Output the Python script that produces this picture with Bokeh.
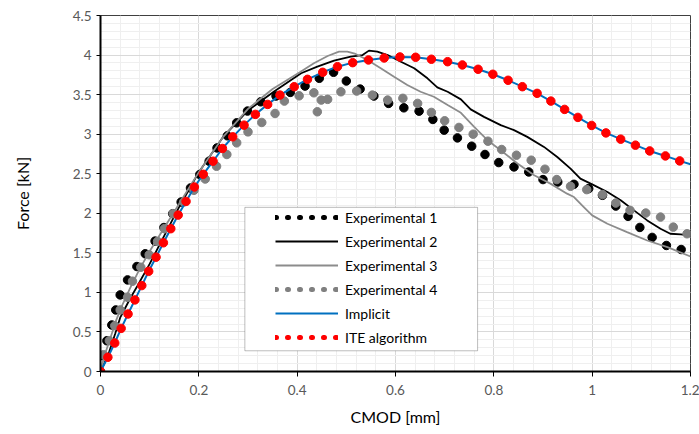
from bokeh.plotting import figure
from bokeh.models import (Range1d, FixedTicker, Legend, LegendItem,
                          BoxAnnotation, CustomJSTickFormatter)
from bokeh.embed import file_html
from bokeh.resources import INLINE

# ---------------- data ----------------
exp1_x = [0, 0.005, 0.013, 0.023, 0.031, 0.040, 0.055, 0.074, 0.091, 0.111,
          0.129, 0.147, 0.164, 0.183, 0.202, 0.221, 0.237, 0.258, 0.277, 0.299,
          0.326, 0.357, 0.386, 0.416, 0.445, 0.474, 0.500, 0.528, 0.556, 0.586,
          0.617, 0.648, 0.676, 0.699, 0.726, 0.755, 0.782, 0.810, 0.841, 0.871,
          0.900, 0.930, 0.963, 0.993, 1.021, 1.048, 1.073, 1.097, 1.122, 1.151,
          1.181]
exp1_f = [0, 0.2, 0.389, 0.588, 0.778, 0.968, 1.158, 1.327, 1.488, 1.648,
          1.82, 1.995, 2.142, 2.32, 2.49, 2.658, 2.826, 2.979, 3.143, 3.292,
          3.409, 3.482, 3.528, 3.608, 3.706, 3.782, 3.672, 3.570, 3.482, 3.389,
          3.333, 3.291, 3.186, 3.051, 2.953, 2.848, 2.743, 2.641, 2.586, 2.522,
          2.426, 2.395, 2.366, 2.312, 2.227, 2.091, 1.961, 1.821, 1.695, 1.593,
          1.542]

exp2_x = [0, 0.015, 0.03, 0.04, 0.05, 0.06, 0.075, 0.1, 0.13, 0.16,
          0.2, 0.25, 0.3, 0.353, 0.408, 0.441, 0.475, 0.509, 0.533, 0.546,
          0.563, 0.584, 0.611, 0.638, 0.665, 0.685, 0.706, 0.733, 0.753, 0.780,
          0.814, 0.841, 0.868, 0.902, 0.929, 0.956, 0.976, 1.0, 1.031, 1.058,
          1.085, 1.112, 1.139, 1.159, 1.180, 1.2]
exp2_f = [0, 0.2, 0.48, 0.68, 0.8, 0.92, 1.08, 1.36, 1.72, 2.08,
          2.52, 2.97, 3.30, 3.54, 3.77, 3.853, 3.929, 3.98, 4.0, 4.056,
          4.043, 4.0, 3.916, 3.833, 3.706, 3.592, 3.536, 3.44, 3.313, 3.219,
          3.114, 3.051, 2.966, 2.839, 2.712, 2.565, 2.438, 2.366, 2.269, 2.164,
          2.037, 1.91, 1.805, 1.741, 1.733, 1.72]

exp3_x = [0, 0.008, 0.02, 0.032, 0.045, 0.06, 0.08, 0.1, 0.13, 0.16,
          0.2, 0.25, 0.3, 0.35, 0.407, 0.434, 0.462, 0.485, 0.502, 0.519,
          0.543, 0.570, 0.597, 0.624, 0.651, 0.678, 0.706, 0.733, 0.760, 0.787,
          0.814, 0.848, 0.882, 0.915, 0.949, 0.963, 0.983, 1.0, 1.031, 1.071,
          1.112, 1.153, 1.2]
exp3_f = [0, 0.2, 0.42, 0.65, 0.85, 1.05, 1.3, 1.52, 1.82, 2.12,
          2.52, 2.97, 3.32, 3.57, 3.79, 3.896, 3.988, 4.043, 4.043, 4.014,
          3.938, 3.833, 3.726, 3.621, 3.536, 3.473, 3.368, 3.27, 3.093, 2.924,
          2.797, 2.629, 2.48, 2.375, 2.248, 2.205, 2.079, 1.973, 1.868, 1.762,
          1.656, 1.572, 1.454]

exp4_x = [0, 0.006, 0.018, 0.029, 0.040, 0.055, 0.065, 0.082, 0.099, 0.116,
          0.130, 0.148, 0.169, 0.190, 0.213, 0.236, 0.257, 0.277, 0.300, 0.328,
          0.355, 0.374, 0.404, 0.434, 0.441, 0.449, 0.462, 0.489, 0.521, 0.553,
          0.584, 0.615, 0.645, 0.673, 0.700, 0.729, 0.758, 0.788, 0.816, 0.846,
          0.876, 0.904, 0.928, 0.956, 0.989, 1.021, 1.048, 1.077, 1.109, 1.139,
          1.165, 1.193]
exp4_f = [0, 0.212, 0.389, 0.579, 0.778, 0.938, 1.141, 1.318, 1.475, 1.644,
          1.805, 1.995, 2.142, 2.29, 2.433, 2.594, 2.743, 2.890, 3.029, 3.148,
          3.262, 3.418, 3.485, 3.523, 3.283, 3.431, 3.440, 3.536, 3.545, 3.494,
          3.431, 3.453, 3.389, 3.275, 3.169, 3.085, 3.0, 2.911, 2.806, 2.734,
          2.671, 2.557, 2.426, 2.341, 2.299, 2.236, 2.129, 2.037, 2.003, 1.952,
          1.825, 1.741]

implicit_x = [0, 0.015, 0.029, 0.042, 0.056, 0.070, 0.084, 0.098, 0.113, 0.128,
              0.143, 0.158, 0.174, 0.191, 0.209, 0.229, 0.248, 0.269, 0.292, 0.315,
              0.340, 0.365, 0.394, 0.421, 0.452, 0.482, 0.513, 0.545, 0.577, 0.609,
              0.641, 0.673, 0.706, 0.736, 0.768, 0.798, 0.829, 0.858, 0.888, 0.916,
              0.944, 0.971, 0.999, 1.028, 1.058, 1.088, 1.117, 1.149, 1.178, 1.2]
implicit_f = [0, 0.18, 0.36, 0.545, 0.727, 0.905, 1.086, 1.267, 1.445, 1.627,
              1.805, 1.977, 2.15, 2.332, 2.493, 2.658, 2.819, 2.966, 3.114, 3.250,
              3.376, 3.494, 3.600, 3.693, 3.782, 3.853, 3.904, 3.938, 3.963, 3.976,
              3.972, 3.947, 3.916, 3.875, 3.820, 3.757, 3.681, 3.600, 3.516, 3.418,
              3.313, 3.212, 3.110, 3.016, 2.937, 2.861, 2.788, 2.725, 2.662, 2.62]

ite_x = [0, 0.015, 0.029, 0.042, 0.056, 0.070, 0.084, 0.098, 0.113, 0.128,
         0.143, 0.158, 0.174, 0.191, 0.209, 0.229, 0.248, 0.269, 0.292, 0.315,
         0.340, 0.365, 0.394, 0.421, 0.452, 0.482, 0.513, 0.545, 0.577, 0.609,
         0.641, 0.673, 0.706, 0.736, 0.768, 0.798, 0.829, 0.858, 0.888, 0.916,
         0.944, 0.971, 0.999, 1.028, 1.058, 1.088, 1.117, 1.149, 1.178]
ite_f = [0, 0.18, 0.36, 0.545, 0.727, 0.905, 1.086, 1.267, 1.445, 1.627,
         1.805, 1.977, 2.15, 2.332, 2.493, 2.658, 2.819, 2.966, 3.114, 3.250,
         3.376, 3.494, 3.600, 3.693, 3.782, 3.853, 3.904, 3.938, 3.963, 3.976,
         3.972, 3.947, 3.916, 3.875, 3.820, 3.757, 3.681, 3.600, 3.516, 3.418,
         3.313, 3.212, 3.110, 3.016, 2.937, 2.861, 2.788, 2.725, 2.662]

x_ticks = [0, 0.2, 0.4, 0.6, 0.8, 1.0, 1.2]
x_minor = [0.04 * i for i in range(31)]
y_ticks = [0, 0.5, 1, 1.5, 2, 2.5, 3, 3.5, 4, 4.5]
y_minor = [0.1 * i for i in range(46)]

labels = ["Experimental 1", "Experimental 2", "Experimental 3",
          "Experimental 4", "Implicit", "ITE algorithm"]

FONT = "Lato"
NAN = float("nan")

p = figure(width=699, height=434, output_backend="svg", toolbar_location=None,
           x_range=Range1d(0, 1.2), y_range=Range1d(0, 4.5),
           min_border_left=100, min_border_right=9, min_border_top=15,
           min_border_bottom=63, background_fill_color="white",
           border_fill_color="white")

p.outline_line_color = "#404040"
p.outline_line_width = 1

p.xaxis.ticker = FixedTicker(ticks=x_ticks, minor_ticks=x_minor)
p.yaxis.ticker = FixedTicker(ticks=y_ticks, minor_ticks=y_minor)
fmt = "return (Math.round(tick*100)/100).toString();"
p.xaxis.formatter = CustomJSTickFormatter(code=fmt)
p.yaxis.formatter = CustomJSTickFormatter(code=fmt)

for g in (p.xgrid, p.ygrid):
    g.grid_line_color = "#d9d9d9"
    g.grid_line_width = 1
    g.minor_grid_line_color = "#efefef"
    g.minor_grid_line_width = 1

for ax in (p.xaxis, p.yaxis):
    ax.axis_line_color = "black"
    ax.axis_line_width = 2
    ax.major_tick_line_color = "black"
    ax.major_tick_in = 0
    ax.minor_tick_line_color = None
    ax.major_label_text_font = FONT
    ax.major_label_text_font_size = "13.5px"
    ax.major_label_text_color = "#595959"
    ax.axis_label_text_font = FONT
    ax.axis_label_text_font_size = "16px"
    ax.axis_label_text_font_style = "normal"
    ax.axis_label_text_color = "black"

p.xaxis.major_tick_out = 5
p.yaxis.major_tick_out = 4
p.xaxis.major_label_standoff = 8
p.yaxis.major_label_standoff = 5
p.xaxis.axis_label = "CMOD [mm]"
p.yaxis.axis_label = "Force [kN]"
p.xaxis.axis_label_standoff = 9
p.yaxis.axis_label_standoff = 38

# ---------------- series (Excel order) ----------------
r1 = p.scatter(exp1_x, exp1_f, size=8.5, color="black")
r2 = p.line(exp2_x, exp2_f, line_color="black", line_width=1.8)
r3 = p.line(exp3_x, exp3_f, line_color="#8c8c8c", line_width=1.8)
r4 = p.scatter(exp4_x, exp4_f, size=8.5, color="#808080")
r5 = p.line(implicit_x, implicit_f, line_color="#0070c0", line_width=2)
r6 = p.scatter(ite_x, ite_f, size=8.5, color="#ff0000")

# legend-only dotted glyphs (no data drawn)
d1 = p.line(x=[NAN], y=[NAN], line_color="black", line_width=5, line_dash="1 11", line_cap="round")
d4 = p.line(x=[NAN], y=[NAN], line_color="#808080", line_width=5, line_dash="1 11", line_cap="round")
d6 = p.line(x=[NAN], y=[NAN], line_color="#ff0000", line_width=5, line_dash="1 11", line_cap="round")

box = BoxAnnotation(left=0.2936, right=0.767, bottom=0.262, top=2.075,
                    fill_color="white", fill_alpha=1,
                    line_color="#262626", line_width=1)
p.add_layout(box)

legend = Legend(items=[LegendItem(label=labels[0], renderers=[d1]),
                       LegendItem(label=labels[1], renderers=[r2]),
                       LegendItem(label=labels[2], renderers=[r3]),
                       LegendItem(label=labels[3], renderers=[d4]),
                       LegendItem(label=labels[4], renderers=[r5]),
                       LegendItem(label=labels[5], renderers=[d6])],
                location=(175, 22), padding=0, spacing=0,
                glyph_width=63, glyph_height=24, label_height=24,
                label_standoff=7, border_line_alpha=0,
                background_fill_alpha=0,
                label_text_font=FONT, label_text_font_size="14px",
                label_text_color="black")
p.add_layout(legend)

open("out.html", "w").write(file_html(p, INLINE))
